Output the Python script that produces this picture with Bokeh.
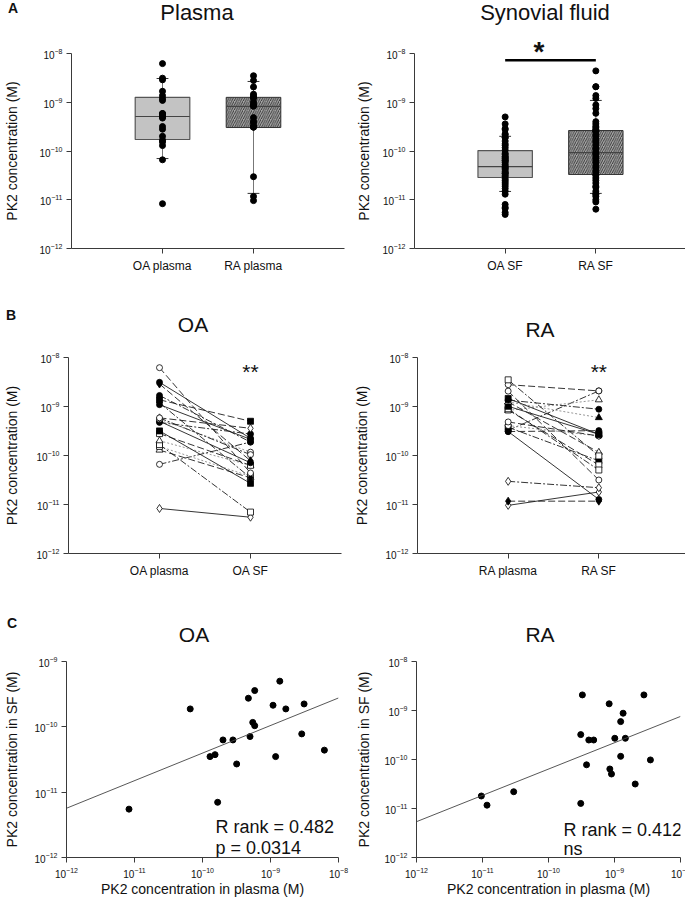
import math
from bokeh.plotting import figure
from bokeh.layouts import column, row
from bokeh.models import Range1d, FixedTicker, Label, Div
from bokeh.embed import file_html
from bokeh.resources import INLINE

# ---------------- data ----------------
cat_x = [1, 2]
plasma_labels = ["OA plasma", "RA plasma"]
sf_labels = ["OA SF", "RA SF"]
y_ticks_4 = [1e-12, 1e-11, 1e-10, 1e-9, 1e-8]
y_ticks_3 = [1e-12, 1e-11, 1e-10, 1e-9]
x_ticks = [1e-12, 1e-11, 1e-10, 1e-9, 1e-8]

# paired patients (plasma, SF)
oa_plasma = [8.3e-12, 6.6e-11, 1.29e-10, 1.53e-10, 1.67e-10, 2.0e-10, 2.8e-10, 3.18e-10,
             4.73e-10, 5.0e-10, 5.48e-10, 5.86e-10, 5.86e-10, 1.09e-9, 1.19e-9, 1.37e-9,
             1.68e-9, 2.88e-9, 3.12e-9, 6.2e-9]
oa_sf = [5.5e-12, 1.88e-10, 3.5e-11, 3.75e-11, 7.0e-12, 6.3e-11, 6.3e-11, 2.7e-11,
         2.74e-10, 7.1e-11, 1.17e-10, 3.59e-10, 1.04e-10, 2.14e-10, 3.5e-11, 5.0e-10,
         1.88e-10, 7.8e-11, 2.24e-10, 4.4e-11]
ra_plasma = [9.6e-12, 1.17e-11, 2.97e-11, 3.08e-10, 3.26e-10, 3.08e-10, 3.77e-10, 4.08e-10,
             4.84e-10, 8.3e-10, 8.5e-10, 9.0e-10, 1.01e-9, 1.24e-9, 1.24e-9, 1.35e-9,
             1.46e-9, 2.06e-9, 2.79e-9, 3.5e-9]
ra_sf = [1.8e-11, 1.17e-11, 2.2e-11, 3.22e-10, 2.08e-9, 1.27e-11, 7.8e-11, 2.5e-10,
         2.5e-10, 1.37e-9, 6.4e-11, 5.06e-11, 2.71e-10, 5.93e-10, 1.16e-10, 8.8e-10,
         2.71e-10, 3.16e-11, 2.08e-9, 9.8e-11]

# SF samples without paired plasma
oa_sf_unpaired = [2.9e-10, 1.6e-10, 1.4e-10, 1.3e-10, 9.0e-11, 8.5e-11, 7.5e-11, 6.8e-11,
                  5.8e-11, 5.3e-11, 4.9e-11, 4.6e-11, 4.1e-11, 3.2e-11, 3.0e-11, 2.5e-11,
                  2.3e-11, 2.1e-11, 1.9e-11, 1.7e-11, 1.5e-11, 1.3e-11, 8.0e-12, 6.6e-12, 5.0e-12]
ra_sf_unpaired = [4.4e-9, 1.2e-9, 7.4e-10, 4.0e-10, 3.6e-10, 3.0e-10, 2.2e-10, 2.0e-10,
                  1.8e-10, 1.6e-10, 1.5e-10, 1.3e-10, 1.1e-10, 9.0e-11, 8.5e-11, 7.0e-11,
                  5.8e-11, 4.5e-11, 4.0e-11, 3.6e-11, 3.3e-11, 2.8e-11, 2.5e-11, 1.9e-11,
                  1.5e-11, 1.35e-11, 1.0e-11, 9.0e-12, 6.4e-12]

# box statistics [OA, RA]
plasma_q1 = [1.72e-10, 3.03e-10]
plasma_median = [5.1e-10, 8.2e-10]
plasma_q3 = [1.26e-9, 1.26e-9]
plasma_whisker_lo = [7.0e-11, 1.35e-11]
plasma_whisker_hi = [3.07e-9, 2.67e-9]
sf_q1 = [2.86e-11, 3.3e-11]
sf_median = [4.8e-11, 9.3e-11]
sf_q3 = [1.02e-10, 2.63e-10]
sf_whisker_lo = [1.48e-11, 1.35e-11]
sf_whisker_hi = [2.0e-10, 1.09e-9]
sig_bar_level = 7.3e-9

# regression on log-log axes [OA, RA]: log10(y) = a + b*log10(x)
fit_log_intercept = [-6.182, -4.825]
fit_slope = [0.422, 0.537]
r_rank_text = ["R rank = 0.482", "R rank = 0.412"]
p_text = ["p = 0.0314", "ns"]

# ---------------- styles ----------------
FONT = "Liberation Sans"
AXIS = "#3a3a3a"
TXT = "#111111"
BOXW = 0.3
CAP = 0.065
DASH = {"solid": "solid", "dash": "7 3", "dashdot": "7 2 2 2", "dot": "2 2"}
# (marker, filled, dash) per patient, same order as the data
oa_styles = [("diamond", False, "solid"), ("circle", False, "dashdot"), ("triangle", False, "dash"),
             ("square", False, "dot"), ("square", False, "dashdot"), ("triangle", False, "dot"),
             ("square", False, "dash"), ("square", True, "solid"), ("circle", True, "dashdot"),
             ("circle", True, "solid"), ("circle", False, "dot"), ("diamond", False, "dash"),
             ("circle", False, "dashdot"), ("circle", True, "solid"), ("diamond", True, "dashdot"),
             ("square", True, "dash"), ("circle", True, "dashdot"), ("diamond", True, "dash"),
             ("circle", True, "solid"), ("circle", False, "dash")]
ra_styles = [("diamond", False, "solid"), ("diamond", True, "dash"), ("diamond", False, "dashdot"),
             ("circle", True, "dash"), ("circle", True, "dashdot"), ("circle", True, "solid"),
             ("square", True, "dashdot"), ("circle", False, "dot"), ("circle", False, "dash"),
             ("triangle", False, "dot"), ("square", False, "dash"), ("square", False, "dashdot"),
             ("square", True, "solid"), ("triangle", True, "dot"), ("triangle", False, "dash"),
             ("circle", True, "dashdot"), ("square", True, "solid"), ("circle", False, "dash"),
             ("circle", False, "dash"), ("square", False, "dashdot")]
MSIZE = {"circle": 6, "square": 6, "diamond": 8, "triangle": 7}


def header(items, height):
    spans = []
    for text, size, bold, x, baseline, align in items:
        top = baseline - 0.8465 * size
        tx = "translateX(-50%)" if align == "center" else "none"
        weight = "bold" if bold else "normal"
        spans.append(
            f'<span style="position:absolute;left:{x}px;top:{top:.1f}px;'
            f"font-family:'{FONT}';font-size:{size}px;font-weight:{weight};line-height:1;"
            f'white-space:nowrap;color:{TXT};transform:{tx};">{text}</span>')
    html = (f'<div style="position:relative;width:685px;height:{height}px;overflow:visible;">'
            + "".join(spans) + "</div>")
    return Div(text=html, width=685, height=height, margin=0, styles={"overflow": "visible"})


def base_fig(fw, fh, bl, br, bt, bb, x_range, y_top, y_ticks, ylabel, ylab_standoff, x_log=False):
    p = figure(frame_width=fw, frame_height=fh,
               min_border_left=bl, min_border_right=br, min_border_top=bt, min_border_bottom=bb,
               x_range=x_range, y_range=Range1d(1e-12, y_top),
               x_axis_type="log" if x_log else "linear", y_axis_type="log",
               output_backend="svg", toolbar_location=None, tools="")
    p.grid.visible = False
    p.outline_line_color = None
    p.border_fill_color = None
    for ax in p.axis:
        ax.axis_line_color = AXIS
        ax.major_tick_line_color = AXIS
        ax.major_tick_in = 0
        ax.major_tick_out = 5
        ax.minor_tick_line_color = None
        ax.major_label_text_font = FONT
        ax.major_label_text_color = TXT
        ax.axis_label_text_font = FONT
        ax.axis_label_text_font_style = "normal"
        ax.axis_label_text_font_size = "14px"
        ax.axis_label_text_color = TXT
    p.yaxis.ticker = FixedTicker(ticks=y_ticks)
    p.yaxis.major_label_text_font_size = "10px"
    p.yaxis.major_label_standoff = 4
    p.yaxis.axis_label = ylabel
    p.yaxis.axis_label_standoff = ylab_standoff
    return p


def set_categories(p, labels):
    p.xaxis.ticker = FixedTicker(ticks=cat_x)
    p.xaxis.major_label_overrides = {cat_x[i]: labels[i] for i in range(len(labels))}
    p.xaxis.major_label_text_font_size = "12px"
    p.xaxis.major_label_standoff = 5


def label(p, x, y, text, size, bold=False, align="left", x_units="screen", y_units="screen"):
    p.add_layout(Label(x=x, y=y, x_units=x_units, y_units=y_units, text=text,
                       text_font=FONT, text_font_size=f"{size}px",
                       text_font_style="bold" if bold else "normal",
                       text_align=align, text_baseline="alphabetic", text_color=TXT))


def draw_boxes(p, q1, med, q3, lo, hi, points):
    styles = [dict(fill_color="#c3c3c3", line_color="#555555", line_width=1.2),
              dict(fill_color="#a9a9a9", line_color="#333333", line_width=1.0,
                   hatch_pattern="/", hatch_color="#2a2a2a", hatch_scale=4.5, hatch_weight=0.9)]
    for i, xc in enumerate(cat_x):
        p.segment(x0=[xc, xc], y0=[q3[i], q1[i]], x1=[xc, xc], y1=[hi[i], lo[i]],
                  line_color="#777777", line_width=1)
        p.segment(x0=[xc - CAP, xc - CAP], x1=[xc + CAP, xc + CAP], y0=[hi[i], lo[i]],
                  y1=[hi[i], lo[i]], line_color="#333333", line_width=1)
        p.quad(left=xc - BOXW, right=xc + BOXW, bottom=q1[i], top=q3[i], **styles[i])
        p.segment(x0=[xc - BOXW], x1=[xc + BOXW], y0=[med[i]], y1=[med[i]],
                  line_color="#444444", line_width=1.2)
    for i, xc in enumerate(cat_x):
        vals = points[i]
        p.scatter(x=[xc] * len(vals), y=vals, size=6, color="black")


def draw_pairs(p, plasma, sf, styles):
    for i in range(len(plasma)):
        mk, filled, dash = styles[i]
        color = "#8c8c8c" if dash == "dot" else "#1e1e1e"
        p.line(x=cat_x, y=[plasma[i], sf[i]], line_dash=DASH[dash], line_color=color, line_width=0.9)
    for i in range(len(plasma)):
        mk, filled, dash = styles[i]
        p.scatter(x=cat_x, y=[plasma[i], sf[i]], marker=mk, size=MSIZE[mk],
                  fill_color="black" if filled else "white", line_color="black", line_width=0.8)


def draw_scatter(p, xs, ys, k):
    p.scatter(x=xs, y=ys, size=6, color="black")
    lx = [p.x_range.start, p.x_range.end]
    ly = [10 ** (fit_log_intercept[k] + fit_slope[k] * math.log10(v)) for v in lx]
    p.line(x=lx, y=ly, line_color="#444444", line_width=0.9)
    p.xaxis.ticker = FixedTicker(ticks=x_ticks)
    p.xaxis.major_label_text_font_size = "10px"
    p.xaxis.major_label_standoff = 4
    p.xaxis.major_tick_out = 5
    p.xaxis.axis_label = "PK2 concentration in plasma (M)"
    p.xaxis.axis_label_standoff = 0


# ---------------- row A ----------------
head_A = header([("A", 14, True, 8, 13, "left"),
                 ("Plasma", 22, False, 197, 21, "center"),
                 ("Synovial fluid", 22, False, 545, 21, "center"),
                 ("*", 28, True, 539, 62, "center")], 47)

pA1 = base_fig(273, 195, 60, 7, 6, 52, Range1d(0, 3), 1e-8, y_ticks_4, "PK2 concentration (M)", 17)
set_categories(pA1, plasma_labels)
draw_boxes(pA1, plasma_q1, plasma_median, plasma_q3, plasma_whisker_lo, plasma_whisker_hi,
           [oa_plasma, ra_plasma])

pA2 = base_fig(272, 195, 63, 10, 6, 52, Range1d(0, 3), 1e-8, y_ticks_4, "PK2 concentration (M)", 8)
set_categories(pA2, sf_labels)
draw_boxes(pA2, sf_q1, sf_median, sf_q3, sf_whisker_lo, sf_whisker_hi,
           [oa_sf + oa_sf_unpaired, ra_sf + ra_sf_unpaired])
pA2.line(x=cat_x, y=[sig_bar_level, sig_bar_level], line_color="black", line_width=2.5)

# ---------------- row B ----------------
head_B = header([("B", 14, True, 6, 20, "left"),
                 ("OA", 21, False, 193, 32, "center"),
                 ("RA", 21, False, 540, 37, "center")], 49)

pB1 = base_fig(273, 196, 59, 8, 8, 52, Range1d(0, 3), 1e-8, y_ticks_4, "PK2 concentration (M)", 14)
set_categories(pB1, ["OA plasma", "OA SF"])
draw_pairs(pB1, oa_plasma, oa_sf, oa_styles)
label(pB1, 2, 182, "**", 21, align="center", x_units="data")

pB2 = base_fig(272, 196, 68, 5, 8, 52, Range1d(0, 3), 1e-8, y_ticks_4, "PK2 concentration (M)", 13)
set_categories(pB2, ["RA plasma", "RA SF"])
draw_pairs(pB2, ra_plasma, ra_sf, ra_styles)
label(pB2, 2, 182, "**", 21, align="center", x_units="data")

# ---------------- row C ----------------
head_C = header([("C", 14, True, 7, 23, "left"),
                 ("OA", 21, False, 194, 37, "center"),
                 ("RA", 21, False, 540, 37, "center")], 47)

pC1 = base_fig(272, 196, 54, 14, 9, 43, Range1d(1e-12, 1e-8), 1e-9, y_ticks_3,
               "PK2 concentration in SF (M)", 12, x_log=True)
draw_scatter(pC1, oa_plasma, oa_sf, 0)
label(pC1, 149, 31, r_rank_text[0], 18)
label(pC1, 149, 10, p_text[0], 18)

pC2 = base_fig(264, 196, 63, 18, 9, 43, Range1d(1e-12, 1e-8), 1e-8, y_ticks_4,
               "PK2 concentration in SF (M)", 10, x_log=True)
draw_scatter(pC2, ra_plasma, ra_sf, 1)
label(pC2, 147, 28, r_rank_text[1], 18)
label(pC2, 147, 9, p_text[1], 18)

layout = column(head_A, row(pA1, pA2), head_B, row(pB1, pB2), head_C, row(pC1, pC2))

open("out.html", "w").write(file_html(layout, INLINE))
